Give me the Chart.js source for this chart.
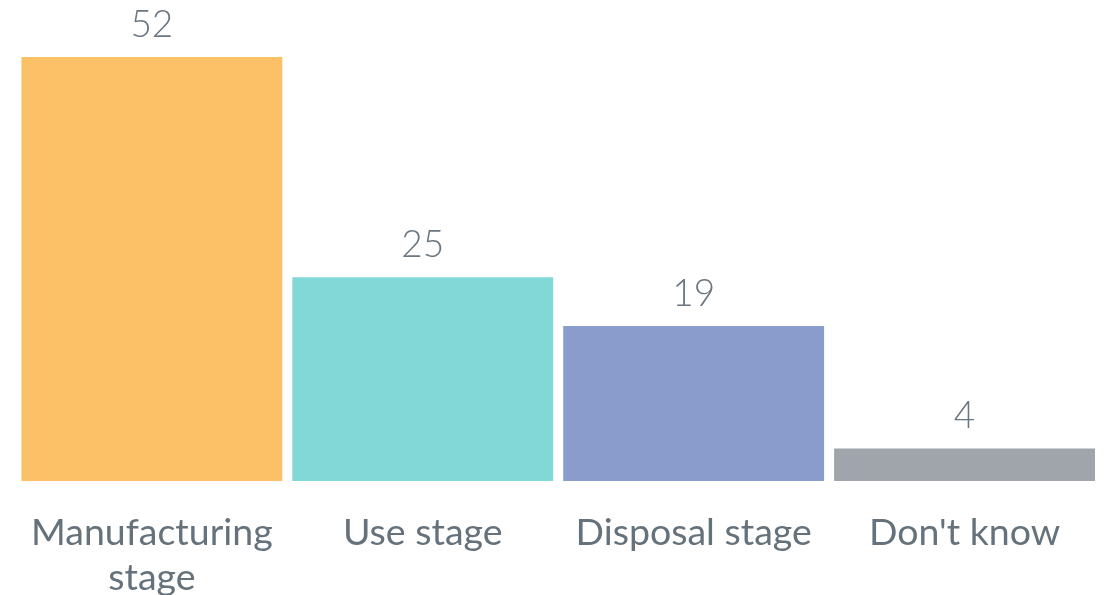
<!DOCTYPE html>
<html>
<head>
<meta charset="utf-8">
<script src="https://cdn.jsdelivr.net/npm/chart.js@4/dist/chart.umd.min.js"></script>
<style>
  html, body { margin: 0; padding: 0; background: #fff; }
  #wrap { width: 1107px; height: 595px; }
</style>
</head>
<body>
<div id="wrap"><canvas id="chart"></canvas></div>
<script>
const categories = [['Manufacturing', 'stage'], 'Use stage', 'Disposal stage', "Don't know"];
const values = [52, 25, 19, 4];
const barColors = ['#FCC166', '#82D8D6', '#899CCB', '#9FA5AB'];

// draws the number above each bar
const valueLabels = {
    id: 'valueLabels',
    afterDatasetsDraw(chart) {
        const ctx = chart.ctx;
        const meta = chart.getDatasetMeta(0);
        ctx.save();
        ctx.font = '300 37px Lato';
        ctx.fillStyle = '#6A7680';
        ctx.textAlign = 'center';
        ctx.textBaseline = 'alphabetic';
        meta.data.forEach((bar, i) => {
            ctx.fillText(String(values[i]), bar.x, bar.y - 20);
        });
        ctx.restore();
    }
};

const context = document.getElementById('chart');
new Chart(context, {
    type: 'bar',
    data: {
        labels: categories,
        datasets: [{
            data: values,
            backgroundColor: barColors,
            borderWidth: 0,
            barPercentage: 0.963,
            categoryPercentage: 1
        }]
    },
    options: {
        responsive: true,
        maintainAspectRatio: false,
        animation: false,
        layout: { padding: { left: 16, right: 7, top: 57, bottom: 0 } },
        plugins: { legend: { display: false }, tooltip: { enabled: false } },
        scales: {
            x: {
                grid: { display: false, drawTicks: false },
                border: { display: false },
                ticks: {
                    color: '#66727B',
                    font: { family: 'Lato', size: 37.5, lineHeight: 1.2 },
                    padding: 29,
                    maxRotation: 0,
                    autoSkip: false
                },
                afterFit(scale) { scale.height = 114; }
            },
            y: {
                display: false,
                min: 0,
                max: 52
            }
        }
    },
    plugins: [valueLabels]
});
</script>
</body>
</html>
